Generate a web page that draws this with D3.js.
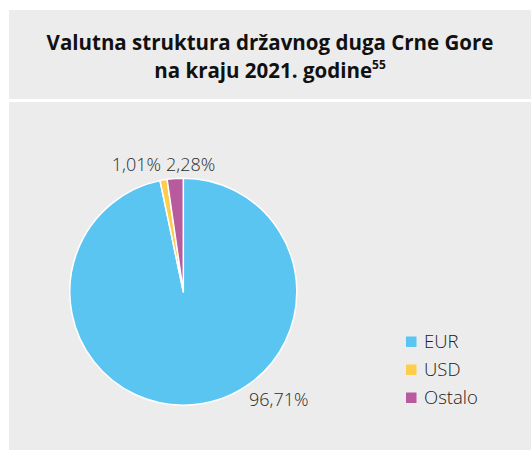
<!DOCTYPE html>
<html><head><meta charset="utf-8">
<script src="https://cdn.jsdelivr.net/npm/d3@7"></script>
<style>html,body{margin:0;padding:0;background:#fff}svg{display:block}</style>
</head><body>
<script>
const categories = ["EUR", "USD", "Ostalo"];
const values = [96.71, 1.01, 2.28];
const valueLabels = ["96,71%", "1,01%", "2,28%"];
const colors = ["#5bc5f2", "#fecd4c", "#b75b9e"];
const titleLines = ["Valutna struktura državnog duga Crne Gore", "na kraju 2021. godine"];
const titleSup = "55";

const W = 531, H = 451;
const svg = d3.select("body").append("svg").attr("width", W).attr("height", H);
svg.append("rect").attr("x", 9).attr("y", 10).attr("width", W - 9).attr("height", 89).attr("fill", "#ececec");
svg.append("rect").attr("x", 9).attr("y", 102).attr("width", W - 9).attr("height", 348).attr("fill", "#ececec");

const tf = "'Open Sans', sans-serif";
svg.append("text").attr("x", 270).attr("y", 50).attr("text-anchor", "middle")
  .attr("font-family", tf).attr("font-weight", 700).attr("font-size", 20.5).attr("fill", "#111")
  .text(titleLines[0]);
const t2 = svg.append("text").attr("x", 270).attr("y", 78).attr("text-anchor", "middle")
  .attr("font-family", tf).attr("font-weight", 700).attr("font-size", 20.5).attr("fill", "#111");
t2.append("tspan").text(titleLines[1]);
t2.append("tspan").attr("font-size", 12).attr("dy", -9).text(titleSup);

const cx = 183.3, cy = 291.7, r = 113.5;
const pie = d3.pie().sort(null).value(d => d)(values);
const arc = d3.arc().innerRadius(0).outerRadius(r);
const g = svg.append("g").attr("transform", `translate(${cx},${cy})`);
g.selectAll("path").data(pie).enter().append("path")
  .attr("d", arc).attr("fill", (d, i) => colors[i])
  .attr("stroke", "#fff").attr("stroke-width", 1.5).attr("stroke-linejoin", "round");

const lf = "'Open Sans', sans-serif";
const labelPos = [[249, 406, "start"], [161, 171, "end"], [166, 171, "start"]];
svg.selectAll("text.lbl").data(valueLabels).enter().append("text").attr("class", "lbl")
  .attr("x", (d, i) => labelPos[i][0]).attr("y", (d, i) => labelPos[i][1])
  .attr("text-anchor", (d, i) => labelPos[i][2])
  .attr("font-family", lf).attr("font-weight", 300).attr("font-size", 18).attr("fill", "#2a2a2a")
  .text(d => d);

const leg = svg.append("g");
categories.forEach((c, i) => {
  const y = 336.5 + i * 28;
  leg.append("rect").attr("x", 406).attr("y", y).attr("width", 10.5).attr("height", 10.5).attr("fill", colors[i]);
  leg.append("text").attr("x", 424).attr("y", y + 11.8).attr("font-family", lf).attr("font-weight", 300)
    .attr("font-size", 18.5).attr("fill", "#222").text(c);
});
</script>
</body></html>
